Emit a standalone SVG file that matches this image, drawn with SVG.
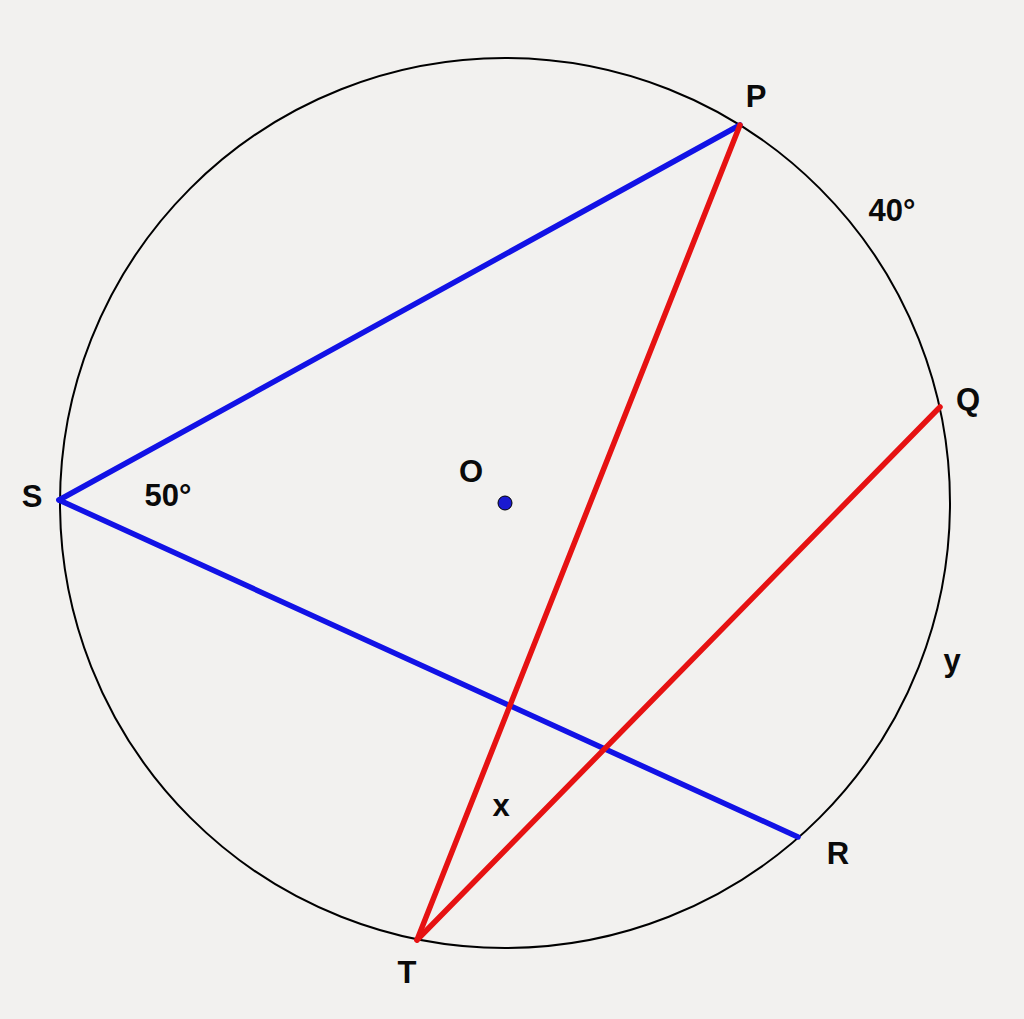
<svg xmlns="http://www.w3.org/2000/svg" width="1024" height="1019" viewBox="0 0 1024 1019">
<style>
.lbl{font-family:"Liberation Sans",Arial,sans-serif;font-weight:bold;font-size:31px;fill:#0a0a0a}
.blue{stroke:#1212e6;stroke-width:5.5;stroke-linecap:round;fill:none}
.red{stroke:#e61212;stroke-width:5.5;stroke-linecap:round;fill:none}
</style>
<rect width="1024" height="1019" fill="#f2f1ef"/>
<g id="circle">
<circle cx="505" cy="503" r="445" fill="none" stroke="#000" stroke-width="2"/>
</g>
<g id="connectors">
<line class="blue" x1="59" y1="500" x2="740" y2="125"/>
<line class="blue" x1="59" y1="500" x2="798" y2="837"/>
<line class="red" x1="740" y1="125" x2="417" y2="940"/>
<line class="red" x1="940" y1="407" x2="417" y2="940"/>
</g>
<g id="center-O">
<circle cx="505" cy="503" r="7" fill="#1a1ad0" stroke="#000" stroke-width="1"/>
<text class="lbl" x="471" y="482" text-anchor="middle">O</text>
</g>
<g id="node-P"><text class="lbl" x="756" y="107" text-anchor="middle">P</text></g>
<g id="node-S"><text class="lbl" x="32" y="507" text-anchor="middle">S</text></g>
<g id="node-Q"><text class="lbl" x="968" y="410" text-anchor="middle">Q</text></g>
<g id="node-R"><text class="lbl" x="838" y="864" text-anchor="middle">R</text></g>
<g id="node-T"><text class="lbl" x="407" y="983" text-anchor="middle">T</text></g>
<g id="labels">
<text class="lbl" x="168" y="506" text-anchor="middle">50°</text>
<text class="lbl" x="892" y="221" text-anchor="middle">40°</text>
<text class="lbl" x="952" y="671" text-anchor="middle">y</text>
<text class="lbl" x="501" y="816" text-anchor="middle">x</text>
</g>
</svg>
